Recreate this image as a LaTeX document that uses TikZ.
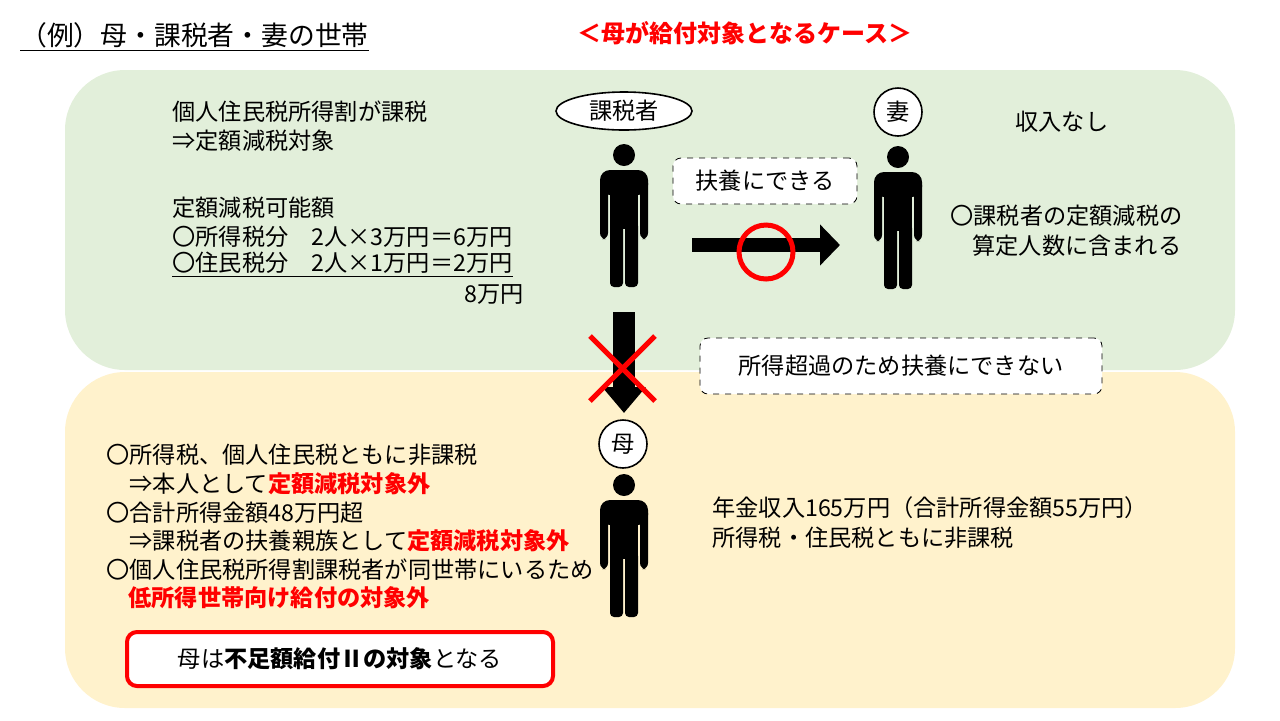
\documentclass[tikz,border=0pt]{standalone}
\usepackage{fontspec}
\setmainfont{Noto Sans CJK JP}
\usetikzlibrary{arrows.meta,shapes.geometric}
\definecolor{greenbg}{RGB}{226,239,218}
\definecolor{yellowbg}{RGB}{255,242,204}
\definecolor{alert}{RGB}{255,0,0}
\tikzset{
  txt/.style={anchor=west, inner sep=0pt, font=\fontsize{11.6}{13}\selectfont},
  tag/.style={draw, thick, fill=white, font=\fontsize{11.6}{13}\selectfont},
  dashbox/.style={draw, dashed, rounded corners=4pt, fill=white, font=\fontsize{11.6}{13}\selectfont},
  person/.pic={
    \fill (0,-12) circle (5.5pt);
    \fill[rounded corners=5pt] (-24,3) rectangle (24,28);
    \fill[rounded corners=3pt] (-24,10) rectangle (-16,72);
    \fill[rounded corners=3pt] (16,10) rectangle (24,72);
    \fill (-14,10) rectangle (14,62);
    \fill[rounded corners=2pt] (-14,55) rectangle (-1,120);
    \fill[rounded corners=2pt] (1,55) rectangle (14,120);
  }
}
\newcommand\red[1]{\textcolor{alert}{\textbf{#1}}}
\begin{document}
\begin{tikzpicture}[x=0.5pt,y=-0.5pt]
  \useasboundingbox (0,0) rectangle (1280,720);

  % title
  \node[txt, font=\fontsize{13.4}{15}\selectfont] (title) at (20,37) {\underline{（例）母・課税者・妻の世帯}};
  \node[font=\fontsize{12}{14}\selectfont\bfseries, text=alert] (case) at (745,33) {＜母が給付対象となるケース＞};

  % panels
  \fill[greenbg, rounded corners=30pt] (65,70) rectangle (1235,370);
  \fill[yellowbg, rounded corners=30pt] (65,372) rectangle (1235,708);

  % top left
  \node[txt] (t1) at (172,112) {個人住民税所得割が課税};
  \node[txt] (t2) at (172,141) {⇒定額減税対象};
  \node[txt] (t3) at (172,208) {定額減税可能額};
  \node[txt] (t4) at (172,237) {〇所得税分　2人×3万円＝6万円};
  \node[txt] (t5) at (172,265) {\underline{〇住民税分　2人×1万円＝2万円}};
  \node[txt, anchor=east] (t6) at (524,294) {8万円};

  % people
  \node[tag, ellipse, minimum width=68pt, minimum height=19pt, inner sep=0pt] (payer) at (624,111) {課税者};
  \node[tag, circle, minimum size=24pt, inner sep=0pt] (wife) at (898,112) {妻};
  \node[tag, circle, minimum size=24pt, inner sep=0pt] (mother) at (623,444) {母};
  \pic at (624,167) {person};
  \pic at (898,169) {person};
  \pic at (624,497) {person};

  \node[txt] (none) at (1015,122) {収入なし};
  \node[dashbox, minimum width=92pt, minimum height=23pt] (can) at (765,181) {扶養にできる};
  \node[txt] (w1) at (950,216) {〇課税者の定額減税の};
  \node[txt] (w2) at (972,246) {算定人数に含まれる};

  % arrows
  \coordinate (a1) at (692,245);
  \coordinate (a2) at (840,245);
  \draw[line width=7pt, -{Triangle[length=10pt,width=20pt]}] (a1) -- (a2);
  \draw[alert, line width=2.5pt] (766,252) circle (13.5pt);

  \coordinate (d1) at (624,312);
  \coordinate (d2) at (624,413);
  \draw[line width=11pt, -{Triangle[length=13pt,width=21pt]}] (d1) -- (d2);
  \draw[alert, line width=2.5pt] (590,336) -- (655,401) (655,336) -- (590,401);
  \node[dashbox, minimum width=201pt, minimum height=28pt] (over) at (901,366) {所得超過のため扶養にできない};

  % bottom left
  \node[txt] (b1) at (106,455) {〇所得税、個人住民税ともに非課税};
  \node[txt] (b2) at (106,484) {\hspace{1em}⇒本人として\red{定額減税対象外}};
  \node[txt] (b3) at (106,513) {〇合計所得金額48万円超};
  \node[txt] (b4) at (106,541) {\hspace{1em}⇒課税者の扶養親族として\red{定額減税対象外}};
  \node[txt] (b5) at (106,570) {〇個人住民税所得割課税者が同世帯にいるため};
  \node[txt] (b6) at (128,598) {\red{低所得世帯向け給付の対象外}};

  \node[draw=alert, line width=2pt, rounded corners=5pt, fill=white, minimum width=213pt, minimum height=27pt, font=\fontsize{11.6}{13}\selectfont] (result) at (340,659) {母は\textbf{不足額給付Ⅱの対象}となる};

  % bottom right
  \node[txt] (r1) at (712,508) {年金収入165万円（合計所得金額55万円）};
  \node[txt] (r2) at (712,538) {所得税・住民税ともに非課税};
\end{tikzpicture}
\end{document}
